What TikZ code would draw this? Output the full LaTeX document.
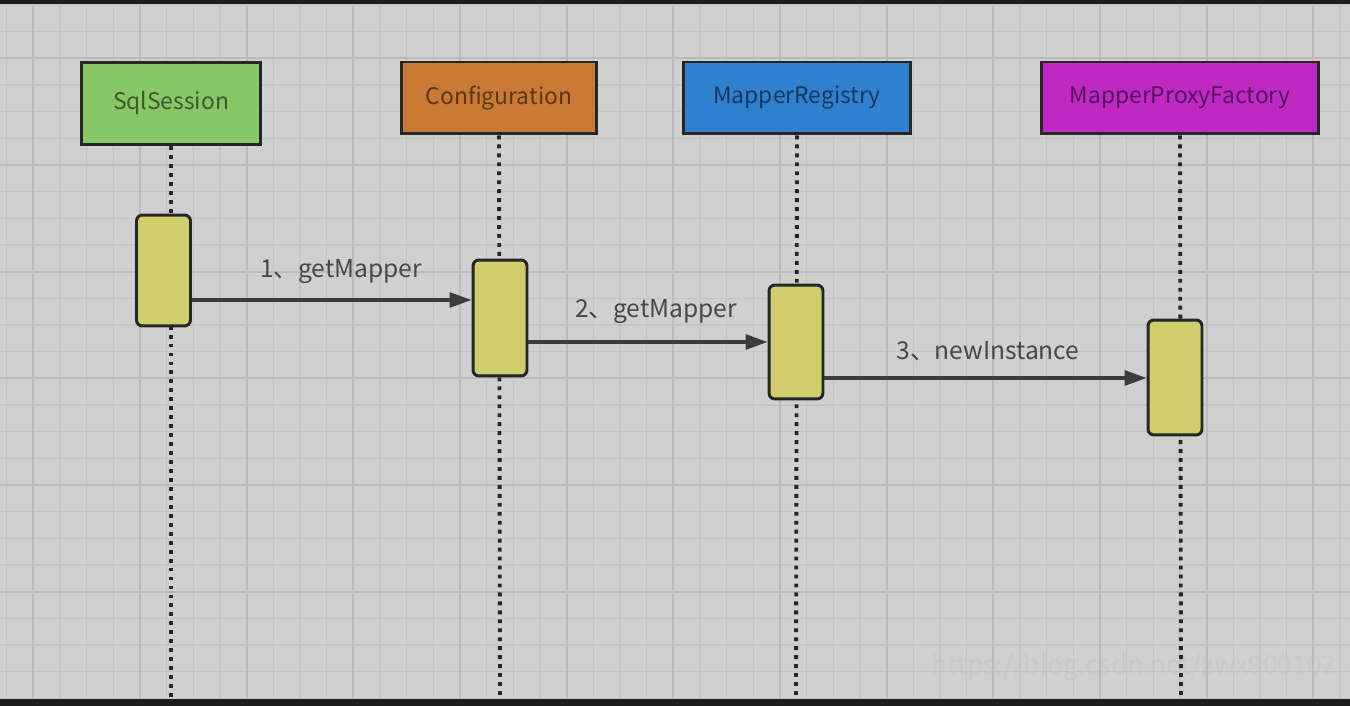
\documentclass[tikz,border=0pt]{standalone}
\usepackage{fontspec}
\setmainfont{Noto Sans CJK SC}
\usetikzlibrary{arrows.meta}

\definecolor{pagebg}{HTML}{D0D0D0}
\definecolor{gridminor}{HTML}{C5C5C5}
\definecolor{gridmajor}{HTML}{BBBBBB}
\definecolor{framedark}{HTML}{1C1C1C}
\definecolor{sessiongreen}{HTML}{88C765}
\definecolor{configorange}{HTML}{C87A34}
\definecolor{registryblue}{HTML}{3080D0}
\definecolor{factorymagenta}{HTML}{C028C4}
\definecolor{activeyellow}{HTML}{D0CE6C}
\definecolor{inkdark}{HTML}{262626}

\begin{document}
\begin{tikzpicture}[x=0.02cm, y=-0.02cm,
    objbox/.style={draw=inkdark, line width=1.7pt, minimum height=1.44cm,
        font=\fontsize{13}{15}\selectfont, text=black, text opacity=0.55},
    activebox/.style={draw=inkdark, fill=activeyellow, line width=1.7pt,
        rounded corners=0.12cm, minimum width=1.08cm},
    lifeline/.style={draw=inkdark, line width=2.2pt, dash pattern=on 2.2pt off 2.9pt},
    msg/.style={draw=inkdark!90, line width=1.8pt,
        -{Triangle[length=0.44cm,width=0.3cm]}},
    msglabel/.style={font=\fontsize{14}{16}\selectfont, text=black!72}]

    % Fix the size of the picture
    \useasboundingbox (0,0) rectangle (1350,706);

    % Dark frame and the gray sheet
    \fill[framedark] (0,0) rectangle (1350,706);
    \fill[pagebg] (0,6) rectangle (1350,699);

    % Grid lines of the sheet
    \foreach \i in {0,...,50}
        \draw[gridminor, line width=0.8pt] (6.667+26.667*\i, 6) -- (6.667+26.667*\i, 699);
    \foreach \j in {0,...,26}
        \draw[gridminor, line width=0.8pt] (0, 5+26.667*\j) -- (1350, 5+26.667*\j);
    \foreach \k in {0,...,12}
        \draw[gridmajor, line width=1pt] (33.333+106.667*\k, 6) -- (33.333+106.667*\k, 699);
    \foreach \k in {0,...,5}
        \draw[gridmajor, line width=1pt] (0, 58.333+106.667*\k) -- (1350, 58.333+106.667*\k);

    % Object boxes at the top
    \node[objbox, fill=sessiongreen, minimum width=3.6cm, minimum height=1.66cm] (session) at (171,103.5) {SqlSession};
    \node[objbox, fill=configorange, minimum width=3.92cm] (config) at (499,98) {Configuration};
    \node[objbox, fill=registryblue, minimum width=4.56cm] (registry) at (797,98) {MapperRegistry};
    \node[objbox, fill=factorymagenta, minimum width=5.56cm] (factory) at (1180,98) {MapperProxyFactory};

    % Ends of the lifelines at the bottom edge
    \coordinate (sessionend) at (171,699);
    \coordinate (configend) at (500,699);
    \coordinate (registryend) at (796,699);
    \coordinate (factoryend) at (1181,699);

    % Dotted lifelines
    \draw[lifeline] (session.south) -- (sessionend);
    \draw[lifeline] (config.south) -- (configend);
    \draw[lifeline] (registry.south) -- (registryend);
    \draw[lifeline] (factory.south) -- (factoryend);

    % Activation bars
    \node[activebox, minimum height=2.22cm] (act1) at (163.5,270.5) {};
    \node[activebox, minimum height=2.32cm] (act2) at (500,318) {};
    \node[activebox, minimum height=2.28cm] (act3) at (796,342) {};
    \node[activebox, minimum height=2.3cm] (act4) at (1175,377.5) {};

    % Messages
    \draw[msg] (act1.east |- 0,300) -- (act2.west |- 0,300);
    \draw[msg] (act2.east |- 0,342) -- (act3.west |- 0,342);
    \draw[msg] (act3.east |- 0,378) -- (act4.west |- 0,378);

    % Message labels
    \node[msglabel] (lbl1) at (341,272) {1、getMapper};
    \node[msglabel] (lbl2) at (656,312) {2、getMapper};
    \node[msglabel] (lbl3) at (988,351) {3、newInstance};

    % Faint watermark
    \node[font=\fontsize{15}{17}\selectfont, text=black!25, opacity=0.35] (mark) at (1134,667) {https://blog.csdn.net/zwx900102};

\end{tikzpicture}
\end{document}
